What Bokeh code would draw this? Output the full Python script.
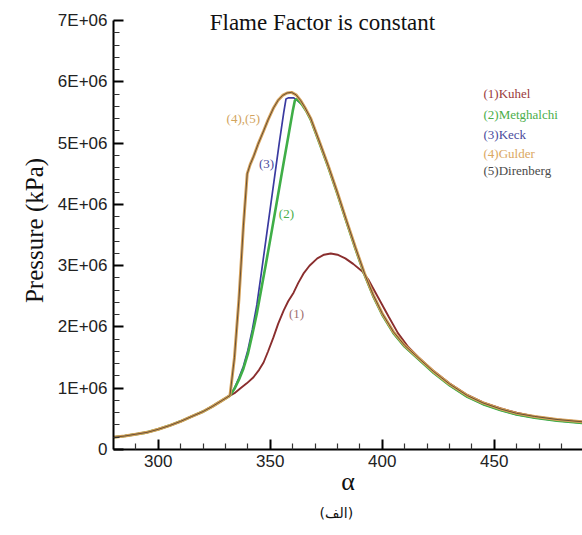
from bokeh.plotting import figure
from bokeh.models import Range1d, FixedTicker, CustomJSTickFormatter, Title
from bokeh.core.properties import value
from bokeh.embed import file_html
from bokeh.resources import INLINE

# crank angle (alpha) and cylinder pressure (kPa) for each flame-speed correlation
base_alpha = [280, 285, 290, 295, 300, 305, 310, 315, 320, 324, 328, 332]
base_p = [0.20e6, 0.22e6, 0.25e6, 0.28e6, 0.33e6, 0.39e6, 0.46e6, 0.54e6,
          0.62e6, 0.70e6, 0.79e6, 0.88e6]

kuhel_alpha = base_alpha + [334, 336.7, 339.5, 342.5, 345, 347, 349, 351.4, 353.5,
                            356, 358, 360.4, 362.5, 364.8, 367.5, 371, 374, 377,
                            380, 383.5, 387, 391, 394, 397, 400, 403, 407, 411.7,
                            416, 423, 430, 438, 445, 453, 460, 468, 478, 490]
kuhel_p = base_p + [0.92e6, 1.00e6, 1.08e6, 1.18e6, 1.30e6, 1.42e6, 1.60e6, 1.83e6,
                    2.05e6, 2.27e6, 2.42e6, 2.56e6, 2.72e6, 2.87e6, 3.00e6, 3.12e6,
                    3.18e6, 3.20e6, 3.18e6, 3.12e6, 3.03e6, 2.91e6, 2.76e6, 2.56e6,
                    2.36e6, 2.16e6, 1.90e6, 1.67e6, 1.51e6, 1.28e6, 1.08e6, 0.89e6,
                    0.77e6, 0.67e6, 0.60e6, 0.54e6, 0.49e6, 0.45e6]

descent_alpha = [364, 366, 368, 372, 376, 380, 384, 388, 392, 396, 400, 405, 410,
                 416, 423, 430, 438, 445, 453, 460, 468, 478, 490]
descent_p = [5.64e6, 5.53e6, 5.39e6, 5.00e6, 4.60e6, 4.17e6, 3.72e6, 3.28e6,
             2.86e6, 2.50e6, 2.20e6, 1.90e6, 1.68e6, 1.48e6, 1.25e6, 1.05e6,
             0.86e6, 0.74e6, 0.64e6, 0.57e6, 0.52e6, 0.47e6, 0.43e6]

metghalchi_alpha = base_alpha + [334, 336, 338, 340, 342, 344, 346, 348, 350, 352,
                                 354, 356, 358, 360, 361, 362] + descent_alpha
metghalchi_p = base_p + [0.99e6, 1.14e6, 1.32e6, 1.56e6, 1.88e6, 2.22e6, 2.62e6,
                         3.02e6, 3.43e6, 3.85e6, 4.27e6, 4.69e6, 5.10e6, 5.52e6,
                         5.70e6, 5.72e6] + descent_p

keck_alpha = base_alpha + [334, 336, 338, 340, 342, 344, 346, 348, 350, 352, 354,
                           356, 357, 358, 360.5, 361.5, 362] + descent_alpha
keck_p = base_p + [1.00e6, 1.17e6, 1.36e6, 1.62e6, 1.96e6, 2.36e6, 2.88e6, 3.41e6,
                   3.94e6, 4.47e6, 5.00e6, 5.50e6, 5.72e6, 5.74e6, 5.74e6, 5.71e6,
                   5.70e6] + descent_p

# Gulder and Direnberg give the same curve
gulder_alpha = base_alpha + [334, 336, 338, 339.7, 341, 342.5, 344.5, 347, 349,
                             351.5, 353.5, 355.5, 357.5, 359.5, 361.5, 363.5, 365.5,
                             368, 372, 376, 380, 384, 388, 392, 396, 400, 405, 410,
                             416, 423, 430, 438, 445, 453, 460, 468, 478, 490]
gulder_p = base_p + [1.50e6, 2.45e6, 3.65e6, 4.50e6, 4.65e6, 4.78e6, 4.98e6, 5.20e6,
                     5.38e6, 5.58e6, 5.70e6, 5.78e6, 5.82e6, 5.83e6, 5.79e6, 5.70e6,
                     5.58e6, 5.41e6, 5.02e6, 4.62e6, 4.19e6, 3.74e6, 3.30e6, 2.88e6,
                     2.52e6, 2.22e6, 1.92e6, 1.70e6, 1.50e6, 1.27e6, 1.07e6, 0.88e6,
                     0.76e6, 0.66e6, 0.59e6, 0.54e6, 0.49e6, 0.45e6]
direnberg_alpha = gulder_alpha
direnberg_p = gulder_p

x_ticks = [300, 350, 400, 450]
x_minor = [290, 310, 320, 330, 340, 360, 370, 380, 390, 410, 420, 430, 440, 460,
           470, 480]
y_ticks = [0, 1e6, 2e6, 3e6, 4e6, 5e6, 6e6, 7e6]
y_tick_labels = ["0", "1E+06", "2E+06", "3E+06", "4E+06", "5E+06", "6E+06", "7E+06"]
y_minor = [k * 0.2e6 for k in range(36) if k % 5 != 0]

legend_names = ["(1)Kuhel", "(2)Metghalchi", "(3)Keck", "(4)Gulder", "(5)Direnberg"]
legend_colors = ["#9a3a3a", "#4aae4a", "#4a4a9c", "#dba862", "#4a4a4a"]
legend_y = [5.81e6, 5.47e6, 5.14e6, 4.83e6, 4.55e6]

# the frame reaches a little above 7E+06 so the title fits inside it;
# the axis line itself stops at 7E+06
p = figure(width=582, height=535, output_backend="svg", toolbar_location=None,
           x_range=Range1d(280, 489.4), y_range=Range1d(0, 7.15e6),
           min_border_left=113, min_border_right=0, min_border_top=11,
           min_border_bottom=86)
p.grid.visible = False
p.outline_line_color = None
p.background_fill_color = "white"

# curves
p.line(kuhel_alpha, kuhel_p, line_color="#8a2e2e", line_width=1.9)
p.line(keck_alpha, keck_p, line_color="#3a3aa0", line_width=1.7)
p.line(metghalchi_alpha, metghalchi_p, line_color="#3fae47", line_width=2.6)
p.line(gulder_alpha, gulder_p, line_color="#d6a25a", line_width=3.0)
p.line(direnberg_alpha, direnberg_p, line_color="#5a4632", line_width=0.9)

serif = value("Liberation Serif")

# title inside the frame
p.text(x=[373.3], y=[6.97e6], text=["Flame Factor is constant"],
       text_font=serif, text_font_size="23px", text_color="#111111",
       text_align="center", text_baseline="middle")

# curve tags
p.text(x=[338, 348.3, 357.2, 361.7], y=[5.40e6, 4.67e6, 3.85e6, 2.22e6],
       text=["(4),(5)", "(3)", "(2)", "(1)"],
       text_color=["#d2a45e", "#4a4a9c", "#4aae4a", "#a07070"],
       text_font=serif, text_font_size="13px",
       text_align="center", text_baseline="middle")

# legend entries
p.text(x=[445.2] * 5, y=legend_y, text=legend_names, text_color=legend_colors,
       text_font=serif, text_font_size="13px",
       text_align="left", text_baseline="middle")

# axes
for ax in (p.xaxis[0], p.yaxis[0]):
    ax.axis_line_width = 2
    ax.axis_line_color = "black"
    ax.major_tick_line_width = 2
    ax.major_tick_line_color = "black"
    ax.minor_tick_line_width = 1.2
    ax.minor_tick_line_color = "#333333"
    ax.major_tick_in = 10
    ax.major_tick_out = 0
    ax.minor_tick_in = 6
    ax.minor_tick_out = 0
    ax.major_label_text_font = "Liberation Sans"
    ax.major_label_text_font_size = "17px"
    ax.major_label_text_color = "#222222"
    ax.axis_label_text_font = "Liberation Serif"
    ax.axis_label_text_font_style = "normal"
    ax.axis_label_text_color = "#111111"

p.yaxis[0].bounds = (0, 7e6)
p.xaxis[0].ticker = FixedTicker(ticks=x_ticks, minor_ticks=x_minor)
p.yaxis[0].ticker = FixedTicker(ticks=y_ticks, minor_ticks=y_minor)
p.yaxis[0].formatter = CustomJSTickFormatter(
    args=dict(tv=y_ticks, tl=y_tick_labels),
    code="const i = tv.indexOf(tick); return i >= 0 ? tl[i] : '';")
p.xaxis[0].major_label_standoff = 5
p.yaxis[0].major_label_standoff = 6

p.xaxis[0].axis_label = "α"
p.xaxis[0].axis_label_text_font_size = "26px"
p.xaxis[0].axis_label_standoff = -3
p.yaxis[0].axis_label = "Pressure (kPa)"
p.yaxis[0].axis_label_text_font_size = "25px"
p.yaxis[0].axis_label_standoff = 7

# caption under the axis
p.add_layout(Title(text="(الف)", align="left", offset=206, standoff=9,
                   vertical_align="bottom", text_line_height=1.6,
                   text_font="DejaVu Sans", text_font_size="14px",
                   text_font_style="normal", text_color="#111111"), "below")

open("out.html", "w").write(file_html(p, INLINE))
